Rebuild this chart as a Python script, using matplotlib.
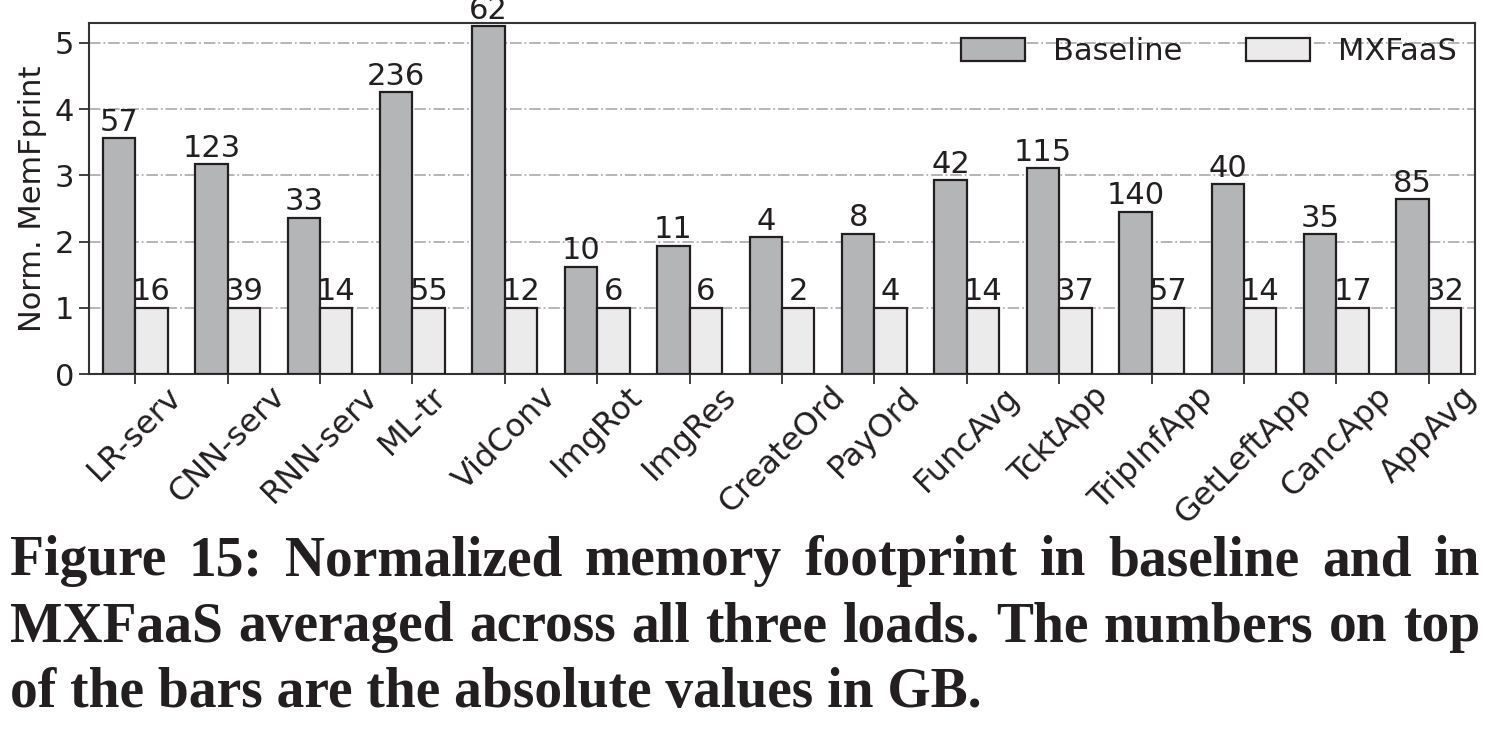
import matplotlib.pyplot as plt
import numpy as np

plt.rcParams['font.family'] = 'DejaVu Sans'

# Normalized memory footprint per workload (baseline vs MXFaaS)
apps = ['LR-serv', 'CNN-serv', 'RNN-serv', 'ML-tr', 'VidConv', 'ImgRot', 'ImgRes',
        'CreateOrd', 'PayOrd', 'FuncAvg', 'TcktApp', 'TripInfApp', 'GetLeftApp',
        'CancApp', 'AppAvg']
baseline_norm = [3.56, 3.17, 2.36, 4.26, 5.25, 1.62, 1.94, 2.07, 2.12, 2.93, 3.11,
                 2.45, 2.87, 2.11, 2.64]
mxfaas_norm = [1.0] * 15
# absolute values in GB (labels on top of bars)
baseline_gb = [57, 123, 33, 236, 62, 10, 11, 4, 8, 42, 115, 140, 40, 35, 85]
mxfaas_gb = [16, 39, 14, 55, 12, 6, 6, 2, 4, 14, 37, 57, 14, 17, 32]

caption = ['Figure 15: Normalized memory footprint in baseline and in',
           'MXFaaS averaged across all three loads. The numbers on top',
           'of the bars are the absolute values in GB.']

txt_color = '#231f20'
fs = 22
W, H = 1491, 737

fig = plt.figure(figsize=(W / 100, H / 100), dpi=100)
ax = fig.add_axes([89 / W, 1 - 374 / H, (1475 - 89) / W, (374 - 23) / H])

x = np.arange(len(apps))
w = 0.35
ax.bar(x - w / 2, baseline_norm, w, color='#b4b5b7', edgecolor='#231f20',
       linewidth=1.6, label='Baseline', zorder=3)
ax.bar(x + w / 2, mxfaas_norm, w, color='#ebebeb', edgecolor='#231f20',
       linewidth=1.6, label='MXFaaS', zorder=3)

for i in range(len(apps)):
    ax.text(x[i] - w / 2, baseline_norm[i] + 0.02, str(baseline_gb[i]), ha='center',
            va='bottom', fontsize=fs, color=txt_color, zorder=4)
    ax.text(x[i] + w / 2, mxfaas_norm[i] + 0.02, str(mxfaas_gb[i]), ha='center',
            va='bottom', fontsize=fs, color=txt_color, zorder=4)

ax.set_xlim(-0.5, len(apps) - 0.5)
ax.set_ylim(0, 5.3)
ax.set_yticks([0, 1, 2, 3, 4, 5])
ax.set_xticks(x)
ax.set_xticklabels(apps, rotation=45, ha='center', fontsize=23)
ax.tick_params(axis='y', labelsize=fs)
ax.tick_params(axis='both', colors=txt_color, length=7, width=1.2)
ax.tick_params(axis='x', pad=-2)
ax.set_ylabel('Norm. MemFprint', fontsize=fs, color=txt_color, labelpad=6)
ax.grid(axis='y', linestyle='-.', color='#b0b0b0', linewidth=1.3, zorder=0)
ax.set_axisbelow(True)
for s in ax.spines.values():
    s.set_color('#333333')
    s.set_linewidth(1.5)

ax.legend(loc='upper right', ncol=2, frameon=False, fontsize=fs, handlelength=2.1,
          handleheight=0.75, columnspacing=2.1, handletextpad=0.9,
          borderaxespad=0.2, bbox_to_anchor=(1.0, 1.012), labelcolor=txt_color)

# caption under the chart, first two lines justified
renderer = fig.canvas.get_renderer()
ys = [575, 641, 707]
x0, x1 = 10, 1480
for k, (line, yy) in enumerate(zip(caption, ys)):
    kw = dict(fontsize=40, fontweight='bold', family='Liberation Serif',
              color=txt_color, va='baseline', ha='left')
    if k == len(caption) - 1:
        fig.text(x0 / W, 1 - yy / H, line, **kw)
        continue
    words = line.split(' ')
    objs = [fig.text(0, 1 - yy / H, wd, **kw) for wd in words]
    widths = [o.get_window_extent(renderer).width for o in objs]
    gap = (x1 - x0 - sum(widths)) / (len(words) - 1)
    pos = x0
    for o, wd in zip(objs, widths):
        o.set_x(pos / W)
        pos += wd + gap

fig.savefig('out.png', dpi=100)
